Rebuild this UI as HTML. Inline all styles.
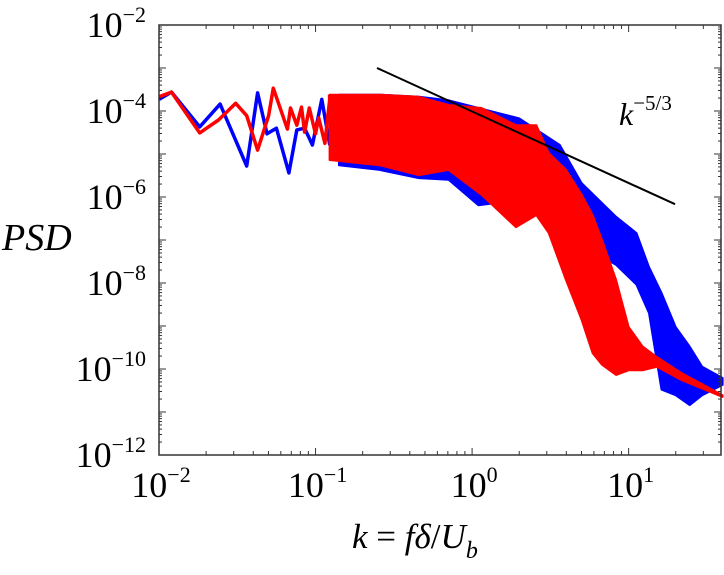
<!DOCTYPE html>
<html><head><meta charset="utf-8"><style>
html,body{margin:0;padding:0;background:#fff;}
svg{display:block;}
text{font-family:"Liberation Serif","Times New Roman",serif;}
</style></head><body>
<svg id="chart" width="724" height="575" viewBox="0 0 724 575" xmlns="http://www.w3.org/2000/svg" font-family="Liberation Serif, serif">
<g id="plot"></g>
<g id="axes"></g>
<text x="2" y="250" font-size="38" font-style="italic">PSD</text>
<text x="352" y="548" font-size="35"><tspan font-style="italic">k</tspan> = <tspan font-style="italic">fδ</tspan>/<tspan font-style="italic">U</tspan><tspan font-style="italic" font-size="24" dy="10">b</tspan></text>
<text x="619" y="125" font-size="32" font-style="italic">k<tspan font-size="21" dy="-15" font-style="normal">−5/3</tspan></text>
</svg>
<script>
// log10 values
const blueSparseLogK = [-2.00,-1.92,-1.74,-1.61,-1.44,-1.37,-1.31,-1.25,-1.17,-1.12,-1.07,-1.02,-0.96,-0.91,-0.89,-0.85];
const blueSparseLogP = [-3.73,-3.56,-4.37,-3.84,-5.28,-3.58,-4.53,-4.40,-5.44,-4.44,-4.40,-4.79,-3.73,-4.77,-4.02,-5.14];
const redSparseLogK = [-2.00,-1.92,-1.74,-1.62,-1.51,-1.44,-1.37,-1.30,-1.27,-1.18,-1.16,-1.12,-1.09,-1.07,-1.04,-1.00,-0.98,-0.94,-0.91];
const redSparseLogP = [-3.67,-3.56,-4.51,-4.21,-3.82,-4.11,-4.91,-4.11,-3.47,-4.42,-3.93,-4.33,-3.91,-4.49,-3.93,-4.53,-4.16,-4.75,-3.75];
const blueBandLogK = [-0.85,-0.59,-0.34,-0.15,0.04,0.30,0.56,0.70,0.92,1.05,1.13,1.21,1.30,1.39,1.47,1.60];
const blueBandUpper = [-3.62,-3.62,-3.67,-3.75,-3.93,-4.17,-4.79,-5.68,-6.46,-6.84,-7.63,-8.23,-9.02,-9.48,-9.95,-10.21];
const blueBandLower = [-5.26,-5.37,-5.56,-5.60,-6.19,-6.07,-6.77,-7.12,-7.58,-8.04,-8.70,-10.48,-10.61,-10.84,-10.61,-10.37];
const redBandLogK = [-0.91,-0.59,-0.34,-0.15,0.06,0.28,0.41,0.49,0.60,0.70,0.77,0.83,0.92,1.00,1.09,1.18,1.34,1.60];
const redBandUpper = [-3.62,-3.62,-3.67,-3.86,-3.93,-4.33,-4.33,-4.98,-5.37,-5.95,-6.42,-7.00,-7.93,-9.02,-9.48,-9.72,-10.10,-10.61];
const redBandLower = [-5.14,-5.26,-5.49,-5.37,-5.95,-6.70,-6.42,-6.84,-7.93,-8.86,-9.63,-9.90,-10.14,-10.03,-10.03,-9.95,-10.26,-10.65];
const refLineK = [0.247, 19.8];
const refLineP = [1.0e-3, 6.8e-7];
const xTickExp = [-2,-1,0,1];
const yTickExp = [-2,-4,-6,-8,-10,-12];

const L=159,R=721,T=25,B=455;
const xMin=-2,xMax=1.59,yMax=-2,yMin=-12;
const sx=lk=>L+(lk-xMin)/(xMax-xMin)*(R-L);
const sy=lp=>T+(yMax-lp)/(yMax-yMin)*(B-T);
const NS="http://www.w3.org/2000/svg";
const plot=document.getElementById('plot'), axes=document.getElementById('axes');
function mk(tag,attrs,parent){const e=document.createElementNS(NS,tag);for(const k in attrs)e.setAttribute(k,attrs[k]);parent.appendChild(e);return e;}

function band(lk,up,lo,color,name){
  let pts=[];
  for(let i=0;i<lk.length;i++)pts.push(sx(lk[i]).toFixed(1)+','+sy(up[i]).toFixed(1));
  for(let i=lk.length-1;i>=0;i--)pts.push(sx(lk[i]).toFixed(1)+','+sy(lo[i]).toFixed(1));
  const p=mk('polygon',{points:pts.join(' '),fill:color,stroke:color,'stroke-width':2,'stroke-linejoin':'round'},plot);
  
  
}
function line(lk,lp,color,name){
  const pts=lk.map((v,i)=>sx(v).toFixed(1)+','+sy(lp[i]).toFixed(1)).join(' ');
  const p=mk('polyline',{points:pts,fill:'none',stroke:color,'stroke-width':3.5,'stroke-linejoin':'round'},plot);
  
  
}
line(blueSparseLogK.concat([blueBandLogK[0]]),blueSparseLogP.concat([blueBandUpper[0]]),'#0000ff','blue-series-low');
band(blueBandLogK,blueBandUpper,blueBandLower,'#0000ff','blue-series-band');
line(redSparseLogK.concat([redBandLogK[0]]),redSparseLogP.concat([redBandUpper[0]]),'#ff0000','red-series-low');
band(redBandLogK,redBandUpper,redBandLower,'#ff0000','red-series-band');
const rl=mk('line',{x1:sx(Math.log10(refLineK[0])),y1:sy(Math.log10(refLineP[0])),x2:sx(Math.log10(refLineK[1])),y2:sy(Math.log10(refLineP[1])),stroke:'#000','stroke-width':2},plot);



const fr=mk('rect',{x:L,y:T,width:R-L,height:B-T,fill:'none',stroke:'#333','stroke-width':1.5},axes);


for(let d=-2;d<=1;d++){for(let m=1;m<10;m++){const lk=d+Math.log10(m);if(lk>xMax)continue;const x=sx(lk);const len=m===1?7:4;
  mk('line',{x1:x,y1:B,x2:x,y2:B-len,stroke:'#333','stroke-width':1},axes);
  mk('line',{x1:x,y1:T,x2:x,y2:T+len,stroke:'#333','stroke-width':1},axes);}}
for(let d=-12;d<-2;d++){for(let m=1;m<10;m++){const lp=d+Math.log10(m);const y=sy(lp);const len=m===1?7:3;
  mk('line',{x1:L,y1:y,x2:L+len,y2:y,stroke:'#333','stroke-width':1},axes);
  mk('line',{x1:R,y1:y,x2:R-len,y2:y,stroke:'#333','stroke-width':1},axes);}}
xTickExp.forEach(e=>{
  const t=mk('text',{x:sx(e)+2,y:497,'font-size':36,'text-anchor':'middle'},axes);
  
  
  t.innerHTML='10<tspan font-size="22" dy="-15">'+(e<0?'−'+(-e):e)+'</tspan>';
});
yTickExp.forEach(e=>{
  const t=mk('text',{x:146,y:sy(e)+12,'font-size':36,'text-anchor':'end'},axes);
  
  
  t.innerHTML='10<tspan font-size="22" dy="-15">−'+(-e)+'</tspan>';
});
</script>
</body></html>
